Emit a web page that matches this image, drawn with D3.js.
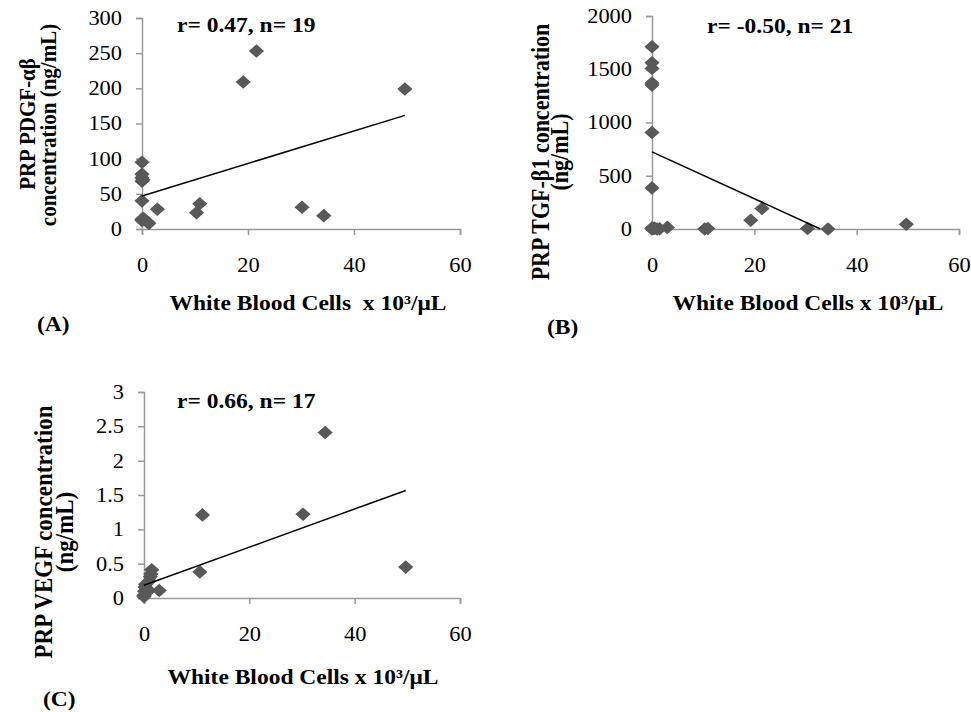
<!DOCTYPE html>
<html>
<head>
<meta charset="utf-8">
<script src="https://cdn.jsdelivr.net/npm/d3@7"></script>
<style>
  body { margin: 0; background: #fff; }
  svg text { font-family: "Liberation Serif", "Times New Roman", serif; fill: #000; }
</style>
</head>
<body>
<svg id="chart" width="971" height="712"></svg>
<script>
// ---- Data ----
// (A) PDGF-ab vs white blood cells
const wbcA = [0, 0, 0, 0, 0, 0, 0, 0.3, 1.0, 1.3, 2.9, 10.3, 10.9, 19.1, 21.6, 30.2, 34.3, 49.6, 0.2];
const pdgfA = [95, 78, 73, 68, 40, 14, 12, 15, 10, 8, 28, 23, 36, 209, 253, 31, 19, 199, 70];
const trendA = [47, 2.31]; // intercept, slope
const yTicksA = [0, 50, 100, 150, 200, 250, 300];

// (B) TGF-b1 vs white blood cells
const wbcB = [0, 0, 0, 0, 0, 0, 0, 0, 0.3, 1.0, 3.0, 0.5, 1.5, 10.3, 10.9, 19.3, 21.5, 30.4, 34.4, 49.7, 0];
const tgfB = [1711, 1561, 1508, 1370, 1351, 906, 386, 0, 5, 0, 15, 8, 3, 0, 5, 82, 192, 5, 0, 44, 10];
const trendB = [724, -22.0];
const yTicksB = [0, 500, 1000, 1500, 2000];

// (C) VEGF vs white blood cells
const wbcC = [34.4, 11.1, 30.2, 49.7, 10.6, 1.46, 1.2, 1.3, 0.2, 0, 0.5, 2.9, 0, 0.3, 1.0, 0.1, 0.8];
const vegfC = [2.41, 1.21, 1.22, 0.45, 0.38, 0.41, 0.31, 0.35, 0.16, 0.04, 0.08, 0.11, 0.02, 0.2, 0.25, 0.1, 0.12];
const trendC = [0.185, 0.0278];
const yTicksC = [0, 0.5, 1, 1.5, 2, 2.5, 3];

const xTicks = [0, 20, 40, 60];

// ---- Drawing ----
const SX = 1.12; // the original figure is slightly stretched horizontally
const svg = d3.select("#chart");

const addText = (x, y, str, opts = {}) =>
  svg
    .append("text")
    .attr(
      "transform",
      `translate(${x},${y}) scale(${SX},1)` + (opts.rotate ? " rotate(-90)" : "")
    )
    .attr("text-anchor", opts.anchor || "start")
    .attr("font-size", opts.size || 21)
    .attr("font-weight", opts.weight || "bold")
    .style("white-space", "pre")
    .text(str);

const drawPanel = (p) => {
  const x = d3.scaleLinear().domain([0, 60]).range([p.x0, p.x1]);
  const y = d3.scaleLinear().domain([0, d3.max(p.yTicks)]).range([p.y0, p.y1]);
  const g = svg.append("g");

  // Axes
  const styleAxis = (sel) => {
    sel.select(".domain").attr("stroke", "#999").attr("stroke-width", 1.5);
    sel.selectAll(".tick line").attr("stroke", "#999").attr("stroke-width", 1.5);
    sel.selectAll(".tick text")
      .attr("font-size", 20)
      .attr("fill", "#000")
      .style("font-family", '"Liberation Serif", "Times New Roman", serif');
  };

  const xAxis = g
    .append("g")
    .attr("transform", `translate(0,${p.y0})`)
    .call(d3.axisBottom(x).tickValues(xTicks).tickSize(6).tickPadding(23));
  styleAxis(xAxis);
  xAxis.selectAll(".tick text").attr("transform", `scale(${SX},1)`);

  const yAxis = g
    .append("g")
    .attr("transform", `translate(${p.x0},0)`)
    .call(d3.axisLeft(y).tickValues(p.yTicks).tickSize(6).tickFormat((d) => String(d)));
  styleAxis(yAxis);
  yAxis
    .selectAll(".tick text")
    .attr("x", -20 / SX)
    .attr("transform", `scale(${SX},1)`);

  // Diamond markers
  const diamond = "M0,-6.8L7.6,0L0,6.8L-7.6,0Z";
  g.selectAll("path.pt")
    .data(p.xs.map((v, i) => [v, p.ys[i]]))
    .enter()
    .append("path")
    .attr("class", "pt")
    .attr("d", diamond)
    .attr("fill", "#595959")
    .attr("transform", (d) => `translate(${x(d[0])},${y(d[1])})`);

  // Linear trend line, from 0 to the largest x (stopped where it meets y = 0)
  const [b, m] = p.trend;
  let xEnd = d3.max(p.xs);
  if (b + m * xEnd < 0) xEnd = -b / m;
  g.append("path")
    .datum([[0, b], [xEnd, b + m * xEnd]])
    .attr("fill", "none")
    .attr("stroke", "#000")
    .attr("stroke-width", 1.5)
    .attr("d", d3.line().x((d) => x(d[0])).y((d) => y(d[1])));

  // Texts
  addText(p.rPos[0], p.rPos[1], p.rText);
  addText(p.xtPos[0], p.xtPos[1], p.xTitle, { anchor: "middle" });
  addText(p.letterPos[0], p.letterPos[1], p.letter);
  p.yTitle.forEach((line, i) =>
    addText(p.ytPos[i][0], p.ytPos[i][1], line, {
      rotate: true,
      anchor: "middle",
      size: p.ytSize,
    })
  );
};

drawPanel({
  xs: wbcA, ys: pdgfA, trend: trendA, yTicks: yTicksA,
  x0: 142, x1: 460, y0: 229, y1: 18,
  rText: "r= 0.47, n= 19", rPos: [177, 32],
  xTitle: "White Blood Cells  x 10³/μL", xtPos: [308, 310],
  letter: "(A)", letterPos: [37, 331],
  yTitle: ["PRP PDGF-αβ", "concentration (ng/mL)"], ytSize: 21,
  ytPos: [[35, 124], [56, 125]],
});

drawPanel({
  xs: wbcB, ys: tgfB, trend: trendB, yTicks: yTicksB,
  x0: 652, x1: 959, y0: 229, y1: 16,
  rText: "r= -0.50, n= 21", rPos: [707, 33],
  xTitle: "White Blood Cells x 10³/μL", xtPos: [808, 310],
  letter: "(B)", letterPos: [547, 334],
  yTitle: ["PRP TGF-β1 concentration", "(ng/mL)"], ytSize: 22,
  ytPos: [[549, 152], [568, 152]],
});

drawPanel({
  xs: wbcC, ys: vegfC, trend: trendC, yTicks: yTicksC,
  x0: 144, x1: 460, y0: 598, y1: 392,
  rText: "r= 0.66, n= 17", rPos: [177, 408],
  xTitle: "White Blood Cells x 10³/μL", xtPos: [303, 684],
  letter: "(C)", letterPos: [43, 706],
  yTitle: ["PRP VEGF concentration", "(ng/mL)"], ytSize: 23,
  ytPos: [[52, 532], [73, 532]],
});
</script>
</body>
</html>
